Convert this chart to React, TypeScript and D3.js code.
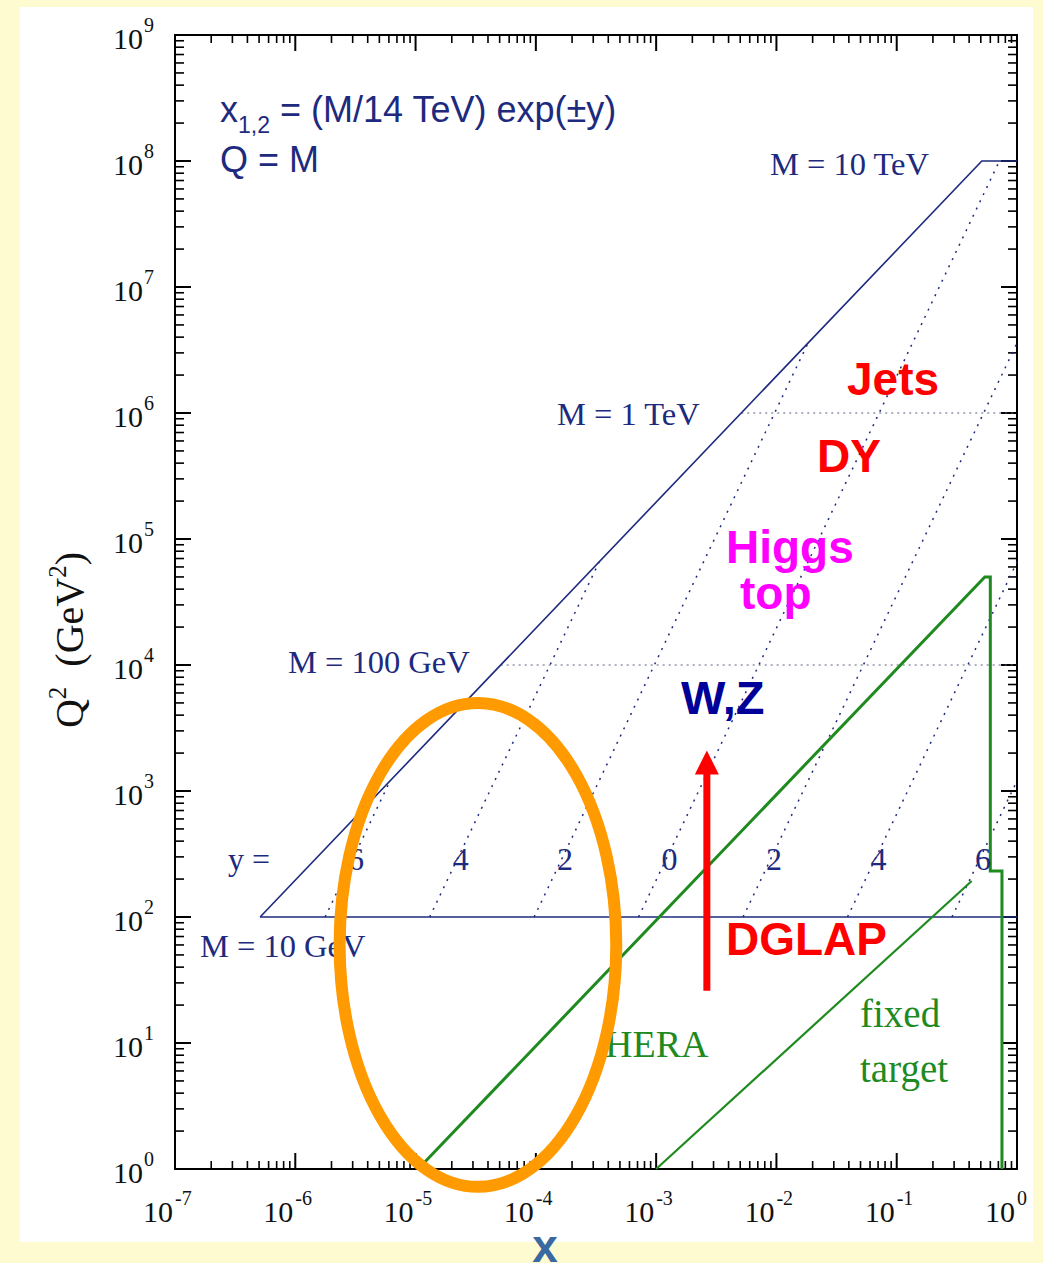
import React from "react";
import * as d3 from "d3";

// ---------- data ----------
const xDecades = [-7, -6, -5, -4, -3, -2, -1, 0];
const yDecades = [0, 1, 2, 3, 4, 5, 6, 7, 8, 9];
const minorMultipliers = [2, 3, 4, 5, 6, 7, 8, 9];

// LHC kinematic boundary (solid navy): x = Q^2/s up to M = 10 TeV, and M = 10 GeV floor
const boundaryUpper: [number, number][] = [[5.1e-7, 100], [0.51, 1e8], [1, 1e8]];
const boundaryLower: [number, number][] = [[5.1e-7, 100], [1, 100]];

// M = 100 GeV and M = 1 TeV dotted levels
const massLevelQ2 = [1e4, 1e6];
const massLevelXStart = [5.1e-5, 5.1e-3];

// constant-rapidity lines (dotted), start at Q^2 = 100, end at kinematic limit
const rapidityLabels = ["6", "4", "2", "0", "2", "4", "6"];
const rapidityX0 = [1.77e-6, 1.31e-5, 9.67e-5, 7.14e-4, 5.28e-3, 0.039, 0.288];
const rapidityQ0 = [100, 100, 100, 100, 100, 100, 100];
const rapidityX1 = [6.14e-6, 3.36e-4, 0.0183, 0.714, 1, 1, 1];
const rapidityQ1 = [1204, 6.57e4, 3.59e6, 1e8, 3.59e6, 6.57e4, 1204];

// HERA region edge (green)
const heraEdge: [number, number][] = [
  [1.05e-5, 1], [0.54, 5e4], [0.6, 5e4], [0.6, 232], [0.75, 232], [0.75, 1],
];
// fixed target edge (green)
const fixedTarget: [number, number][] = [[1e-3, 1], [0.42, 193]];

// DGLAP arrow (x, Q2 from, Q2 to)
const arrowX = 2.64e-3;
const arrowQ2From = 26;
const arrowQ2To = 2100;

// orange ellipse (center in data coords, radii in decades)
const ellipseCenter: [number, number] = [3.3e-5, 60];
const ellipseRadiiDecades: [number, number] = [1.15, 1.92];

// ---------- layout ----------
const W = 1043;
const H = 1263;
const plot = { left: 175, right: 1017, top: 35, bottom: 1169 };

const NAVY = "#1d2a7e";
const GREEN = "#1f8a1f";
const SERIF = "'Liberation Serif', 'DejaVu Serif', serif";
const SANS = "'Liberation Sans', Arial, sans-serif";

export default function App() {
  const x = d3.scaleLog().domain([1e-7, 1]).range([plot.left, plot.right]);
  const y = d3.scaleLog().domain([1, 1e9]).range([plot.bottom, plot.top]);
  const line = d3
    .line<[number, number]>()
    .x((d) => x(d[0]))
    .y((d) => y(d[1]));

  const xMinor: number[] = [];
  xDecades.slice(0, -1).forEach((d) =>
    minorMultipliers.forEach((m) => xMinor.push(m * Math.pow(10, d)))
  );
  const yMinor: number[] = [];
  yDecades.slice(0, -1).forEach((d) =>
    minorMultipliers.forEach((m) => yMinor.push(m * Math.pow(10, d)))
  );

  const MAJ = 16;
  const MIN = 8;

  const ecx = x(ellipseCenter[0]);
  const ecy = y(ellipseCenter[1]);
  const erx = x(ellipseCenter[0] * Math.pow(10, ellipseRadiiDecades[0])) - ecx;
  const ery = ecy - y(ellipseCenter[1] * Math.pow(10, ellipseRadiiDecades[1]));

  const ax = x(arrowX);
  const ay0 = y(arrowQ2From);
  const ay1 = y(arrowQ2To);

  return (
    <svg
      width={W}
      height={H}
      style={{ position: "absolute", left: 0, top: 0, display: "block" }}
    >
      <rect x={0} y={0} width={W} height={H} fill="#FFFBD0" />
      <rect x={20} y={7} width={1013} height={1235} fill="#ffffff" />

      {/* frame */}
      <rect
        x={plot.left}
        y={plot.top}
        width={plot.right - plot.left}
        height={plot.bottom - plot.top}
        fill="none"
        stroke="#000"
        strokeWidth={2}
      />

      {/* x ticks bottom & top */}
      {xDecades.map((d) => {
        const px = x(Math.pow(10, d));
        return (
          <g key={"xM" + d}>
            <line x1={px} x2={px} y1={plot.bottom} y2={plot.bottom - MAJ} stroke="#000" strokeWidth={2} />
            <line x1={px} x2={px} y1={plot.top} y2={plot.top + MAJ} stroke="#000" strokeWidth={2} />
          </g>
        );
      })}
      {xMinor.map((v, i) => {
        const px = x(v);
        return (
          <g key={"xm" + i}>
            <line x1={px} x2={px} y1={plot.bottom} y2={plot.bottom - MIN} stroke="#000" strokeWidth={1.6} />
            <line x1={px} x2={px} y1={plot.top} y2={plot.top + MIN} stroke="#000" strokeWidth={1.6} />
          </g>
        );
      })}
      {/* y ticks left & right */}
      {yDecades.map((d) => {
        const py = y(Math.pow(10, d));
        return (
          <g key={"yM" + d}>
            <line x1={plot.left} x2={plot.left + MAJ} y1={py} y2={py} stroke="#000" strokeWidth={2} />
            <line x1={plot.right} x2={plot.right - MAJ} y1={py} y2={py} stroke="#000" strokeWidth={2} />
          </g>
        );
      })}
      {yMinor.map((v, i) => {
        const py = y(v);
        return (
          <g key={"ym" + i}>
            <line x1={plot.left} x2={plot.left + MIN + 1} y1={py} y2={py} stroke="#000" strokeWidth={1.6} />
            <line x1={plot.right} x2={plot.right - MIN - 1} y1={py} y2={py} stroke="#000" strokeWidth={1.6} />
          </g>
        );
      })}

      {/* tick labels */}
      {xDecades.map((d) => {
        const px = x(Math.pow(10, d));
        return (
          <text key={"xl" + d} fontFamily={SERIF} fill="#111">
            <tspan x={px - 2} y={1222} fontSize={30} textAnchor="end">10</tspan>
            <tspan x={px} y={1205} fontSize={20} textAnchor="start">{String(d)}</tspan>
          </text>
        );
      })}
      {yDecades.map((d) => {
        const py = y(Math.pow(10, d));
        return (
          <text key={"yl" + d} fontFamily={SERIF} fill="#111">
            <tspan x={143} y={py + 14} fontSize={30} textAnchor="end">10</tspan>
            <tspan x={144} y={py - 3} fontSize={20} textAnchor="start">{String(d)}</tspan>
          </text>
        );
      })}

      {/* y axis title */}
      <text
        transform="translate(83,640) rotate(-90)"
        textAnchor="middle"
        fontFamily={SERIF}
        fontSize={40}
        fill="#111"
      >
        <tspan>Q</tspan>
        <tspan dy={-17} fontSize={25}>2</tspan>
        <tspan dy={17}>{"\u00a0 (GeV"}</tspan>
        <tspan dy={-17} fontSize={25}>2</tspan>
        <tspan dy={17}>)</tspan>
      </text>

      {/* dotted mass levels */}
      {massLevelQ2.map((q, i) => (
        <line
          key={"ml" + i}
          x1={x(massLevelXStart[i])}
          x2={x(1)}
          y1={y(q)}
          y2={y(q)}
          stroke="#55607a"
          strokeWidth={1.2}
          strokeDasharray="2 4"
        />
      ))}

      {/* rapidity lines */}
      {rapidityLabels.map((lab, i) => (
        <path
          key={"rl" + i}
          d={line([[rapidityX0[i], rapidityQ0[i]], [rapidityX1[i], rapidityQ1[i]]]) || ""}
          fill="none"
          stroke={NAVY}
          strokeWidth={1.5}
          strokeDasharray="2 6"
        />
      ))}

      {/* kinematic boundary */}
      <path d={line(boundaryUpper) || ""} fill="none" stroke={NAVY} strokeWidth={1.6} />
      <path d={line(boundaryLower) || ""} fill="none" stroke={NAVY} strokeWidth={1.6} />

      {/* HERA & fixed target */}
      <path d={line(heraEdge) || ""} fill="none" stroke={GREEN} strokeWidth={3} />
      <path d={line(fixedTarget) || ""} fill="none" stroke={GREEN} strokeWidth={2.2} />

      {/* rapidity labels */}
      <text x={228} y={870} fontFamily={SERIF} fontSize={32} fill={NAVY}>y =</text>
      {rapidityLabels.map((lab, i) => (
        <text
          key={"rt" + i}
          x={x(rapidityX0[i]) + 31}
          y={870}
          textAnchor="middle"
          fontFamily={SERIF}
          fontSize={32}
          fill={NAVY}
        >
          {lab}
        </text>
      ))}

      {/* mass labels */}
      <text x={770} y={175} fontFamily={SERIF} fontSize={32.5} fill={NAVY}>M = 10 TeV</text>
      <text x={557} y={425} fontFamily={SERIF} fontSize={32.5} fill={NAVY}>M = 1 TeV</text>
      <text x={288} y={673} fontFamily={SERIF} fontSize={32.5} fill={NAVY}>M = 100 GeV</text>
      <text x={200} y={957} fontFamily={SERIF} fontSize={32.5} fill={NAVY}>M = 10 GeV</text>

      {/* formula */}
      <text x={220} y={122} fontFamily={SANS} fontSize={36} fill={NAVY}>
        <tspan>x</tspan>
        <tspan dy={11} fontSize={23}>1,2</tspan>
        <tspan dy={-11}>{" = (M/14 TeV) exp(\u00b1y)"}</tspan>
      </text>
      <text x={220} y={172} fontFamily={SANS} fontSize={36} fill={NAVY}>Q = M</text>

      {/* HERA / fixed target labels */}
      <text x={605} y={1057} fontFamily={SERIF} fontSize={38} fill={GREEN}>HERA</text>
      <text x={860} y={1027} fontFamily={SERIF} fontSize={39} fill={GREEN}>fixed</text>
      <text x={860} y={1082} fontFamily={SERIF} fontSize={39} fill={GREEN}>target</text>

      {/* process labels */}
      <text x={847} y={395} fontFamily={SANS} fontWeight="bold" fontSize={46} fill="#ff0000">Jets</text>
      <text x={817} y={472} fontFamily={SANS} fontWeight="bold" fontSize={46} fill="#ff0000">DY</text>
      <text x={726} y={563} fontFamily={SANS} fontWeight="bold" fontSize={46} fill="#ff00ff">Higgs</text>
      <text x={740} y={609} fontFamily={SANS} fontWeight="bold" fontSize={46} fill="#ff00ff">top</text>
      <text x={681} y={714} fontFamily={SANS} fontWeight="bold" fontSize={47} fill="#000099">W,Z</text>
      <text x={726} y={955} fontFamily={SANS} fontWeight="bold" fontSize={46} fill="#ff0000">DGLAP</text>

      {/* DGLAP arrow */}
      <line x1={ax} x2={ax} y1={ay0} y2={ay1 + 20} stroke="#ff0000" strokeWidth={7} />
      <path
        d={`M${ax},${ay1} L${ax - 12},${ay1 + 24} L${ax + 12},${ay1 + 24} Z`}
        fill="#ff0000"
      />

      {/* orange ellipse */}
      <ellipse cx={ecx} cy={ecy} rx={erx} ry={ery} fill="none" stroke="#FF9A00" strokeWidth={12} />

      {/* x axis title */}
      <text x={545} y={1262} textAnchor="middle" fontFamily={SANS} fontWeight="bold" fontSize={46} fill="#3a68a0">x</text>
    </svg>
  );
}
